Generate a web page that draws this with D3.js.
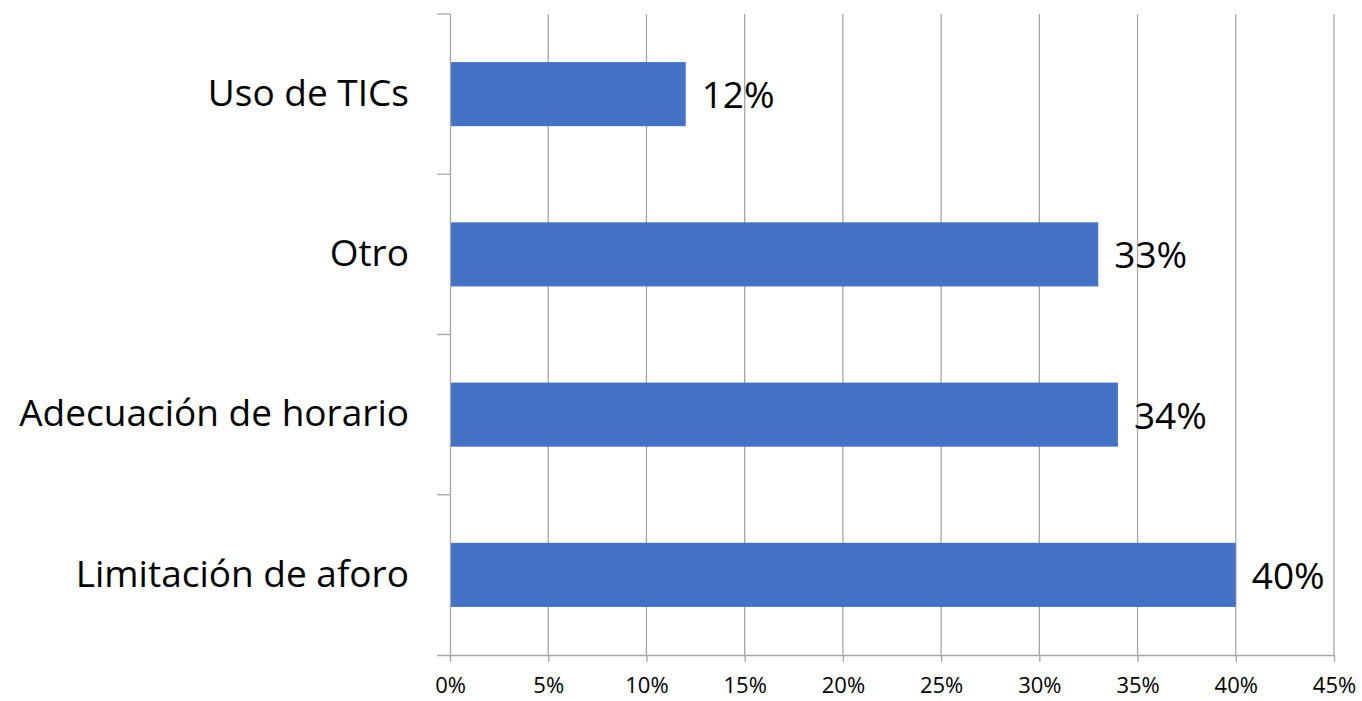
<!DOCTYPE html>
<html>
<head>
<meta charset="utf-8">
<script src="https://cdn.jsdelivr.net/npm/d3@7"></script>
<style>
  body { margin: 0; background: #fff; }
  svg text { font-family: "Open Sans", "Noto Sans", sans-serif; fill: #000; }
</style>
</head>
<body>
<div id="chart"></div>
<script>
var svgWidth = 1362;
var svgHeight = 701;

var margin = { top: 14, right: 28, bottom: 46, left: 450 };
var chartWidth = svgWidth - margin.left - margin.right;
var chartHeight = svgHeight - margin.top - margin.bottom;

// data (top to bottom in the picture)
var categories = ["Uso de TICs", "Otro", "Adecuación de horario", "Limitación de aforo"];
var values = [0.12, 0.33, 0.34, 0.40];
var tickValues = [0, 0.05, 0.10, 0.15, 0.20, 0.25, 0.30, 0.35, 0.40, 0.45];

var data = categories.map((c, i) => ({ cat: c, value: values[i] }));

var svg = d3.select("#chart")
    .append("svg")
    .attr("width", svgWidth)
    .attr("height", svgHeight);

var chart = svg.append("g")
    .attr("transform", `translate(${margin.left}, ${margin.top})`);

var xScale = d3.scaleLinear()
    .domain([0, 0.45])
    .range([0, chartWidth]);

var yScale = d3.scaleBand()
    .domain(categories)
    .range([0, chartHeight])
    .paddingInner(0.6)
    .paddingOuter(0.3);

var gridColor = "#a6a6a6";

/// vertical grid lines
chart.append("g")
    .selectAll("line")
    .data(tickValues.slice(1))
    .enter()
    .append("line")
    .attr("x1", d => xScale(d))
    .attr("x2", d => xScale(d))
    .attr("y1", 0)
    .attr("y2", chartHeight)
    .attr("stroke", gridColor)
    .attr("stroke-width", 1.3);

/// bars
chart.selectAll("rect")
    .data(data)
    .enter()
    .append("rect")
    .attr("x", 0)
    .attr("y", d => yScale(d.cat))
    .attr("width", d => xScale(d.value))
    .attr("height", yScale.bandwidth())
    .attr("fill", "#4472C4");

/// value labels
chart.selectAll(".valueLabel")
    .data(data)
    .enter()
    .append("text")
    .classed("valueLabel", true)
    .attr("x", d => xScale(d.value) + 16)
    .attr("y", d => yScale(d.cat) + yScale.bandwidth() / 2)
    .attr("dy", "0.38em")
    .style("font-size", "37px")
    .text(d => Math.round(d.value * 100) + "%");

/// x axis
var xAxis = d3.axisBottom(xScale)
    .tickValues(tickValues)
    .tickFormat(d3.format(".0%"))
    .tickSizeInner(7)
    .tickSizeOuter(0)
    .tickPadding(15);

var xg = chart.append("g")
    .attr("transform", `translate(0, ${chartHeight})`)
    .call(xAxis);
xg.select(".domain").attr("stroke", gridColor).attr("stroke-width", 1.3)
    .attr("d", `M-13,0.5H${chartWidth}`);
xg.selectAll(".tick line").attr("stroke", gridColor).attr("stroke-width", 1.3);
xg.selectAll(".tick text").style("font-size", "22px").attr("fill", "#000");

/// y axis
var yAxis = d3.axisLeft(yScale).tickSize(0).tickPadding(41);
var yg = chart.append("g").call(yAxis);
yg.select(".domain").attr("stroke", gridColor).attr("stroke-width", 1.3)
    .attr("d", `M0.5,0V${chartHeight}`);
yg.selectAll(".tick text").style("font-size", "37px").attr("fill", "#000");

// tick marks between categories
var step = yScale.step();
var separators = d3.range(categories.length + 1).map(i => yScale(categories[0]) - yScale.paddingInner() * step / 2 + i * step);
yg.selectAll(".sep")
    .data(separators.slice(0, categories.length))
    .enter()
    .append("line")
    .attr("x1", -13)
    .attr("x2", 0)
    .attr("y1", d => d)
    .attr("y2", d => d)
    .attr("stroke", gridColor)
    .attr("stroke-width", 1.3);
</script>
</body>
</html>
